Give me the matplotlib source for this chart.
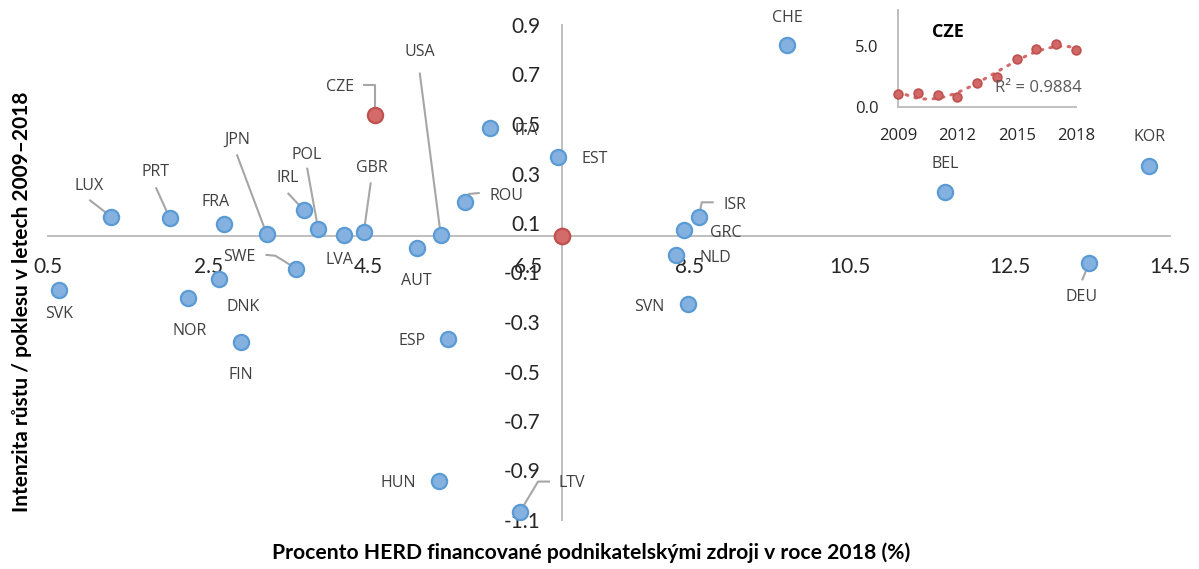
import numpy as np
import matplotlib
matplotlib.use('Agg')
import matplotlib.pyplot as plt

plt.rcParams['font.family'] = ['Open Sans', 'DejaVu Sans']

# zeme, podil HERD z podnikatelskych zdroju (%), intenzita rustu/poklesu
countries = ['LUX', 'PRT', 'FRA', 'JPN', 'IRL', 'POL', 'GBR', 'LVA', 'SWE', 'CZE',
             'USA', 'ROU', 'ITA', 'EST', 'AUT', 'ISR', 'GRC', 'NLD', 'SVN', 'DEU',
             'CHE', 'BEL', 'KOR', 'SVK', 'NOR', 'DNK', 'FIN', 'ESP', 'HUN', 'LTV']
herd_share = [1.29, 2.02, 2.69, 3.23, 3.69, 3.87, 4.44, 4.19, 3.60, 4.58,
              5.40, 5.70, 6.01, 6.86, 5.10, 8.62, 8.44, 8.33, 8.48, 13.49,
              9.72, 11.69, 14.24, 0.64, 2.25, 2.63, 2.91, 5.49, 5.38, 6.39]
growth = [0.125, 0.119, 0.095, 0.054, 0.153, 0.077, 0.062, 0.053, -0.085, 0.536,
          0.053, 0.185, 0.484, 0.365, 0.000, 0.123, 0.072, -0.028, -0.227, -0.063,
          0.819, 0.224, 0.330, -0.171, -0.204, -0.128, -0.381, -0.369, -0.942, -1.066]
avg_share = 6.91
avg_growth = 0.047

# CZE vyvoj 2009-2018 (vlozeny graf)
cze_years = [2009, 2010, 2011, 2012, 2013, 2014, 2015, 2016, 2017, 2018]
cze_values = [1.06, 1.14, 1.03, 0.86, 1.97, 2.44, 4.00, 4.78, 5.17, 4.67]

x_ticks = [0.5, 2.5, 4.5, 6.5, 8.5, 10.5, 12.5, 14.5]
y_ticks = [-1.1, -0.9, -0.7, -0.5, -0.3, -0.1, 0.1, 0.3, 0.5, 0.7, 0.9]

# popisky: posun textu v pixelech + lomena spojnice (pixely od bodu)
label_pos = {
    'LUX': ((-22, 31), [(-22, 17)]),
    'PRT': ((-14, 46), [(-14, 31)]),
    'FRA': ((-8, 22), None),
    'JPN': ((-30, 95), [(-30, 80)]),
    'IRL': ((-16, 32), [(-16, 17)]),
    'POL': ((-11, 74), [(-11, 61)]),
    'GBR': ((8, 64), [(7, 50)]),
    'LVA': ((-4, -25), None),
    'SWE': ((-57, 12), [(-31, 14), (-21, 13)]),
    'CZE': ((-35, 28), [(-12, 30), (0, 30)]),
    'USA': ((-21, 183), [(-21, 162)]),
    'ROU': ((42, 6), [(15, 9), (4, 8)]),
    'ITA': ((37, -3), None),
    'EST': ((37, -2), None),
    'AUT': ((0, -33), None),
    'ISR': ((36, 12), [(15, 15), (3, 15)]),
    'GRC': ((41, -3), None),
    'NLD': ((40, -3), None),
    'SVN': ((-38, -3), None),
    'DEU': ((-7, -34), [(-7, -17)]),
    'CHE': ((0, 27), None),
    'BEL': ((0, 28), None),
    'KOR': ((0, 29), None),
    'SVK': ((0, -24), None),
    'NOR': ((1, -33), None),
    'DNK': ((24, -28), None),
    'FIN': ((0, -33), None),
    'ESP': ((-36, -2), None),
    'HUN': ((-41, -2), None),
    'LTV': ((52, 29), [(30, 30), (18, 30)]),
}

W, H = 1199, 569
fig = plt.figure(figsize=(W / 100, H / 100), dpi=100)
ax = fig.add_axes([48 / W, (H - 520) / H, 1122 / W, 495 / H])
ax.set_xlim(0.5, 14.5)
ax.set_ylim(-1.1, 0.9)

axis_col = '#BFBFBF'
for s in ['top', 'right']:
    ax.spines[s].set_visible(False)
ax.spines['left'].set_position(('data', avg_share))
ax.spines['bottom'].set_position(('data', avg_growth))
for s in ['left', 'bottom']:
    ax.spines[s].set_color(axis_col)
    ax.spines[s].set_linewidth(1.4)
    ax.spines[s].set_zorder(0)

ax.set_xticks(x_ticks)
ax.set_xticklabels([f'{v:.1f}' for v in x_ticks])
ax.set_yticks(y_ticks)
ax.set_yticklabels([f'{v:.1f}' for v in y_ticks])
ax.tick_params(axis='x', length=0, pad=15, labelsize=15, labelcolor='#262626')
ax.tick_params(axis='y', length=0, pad=15, labelsize=15, labelcolor='#262626')
for t in ax.get_xticklabels() + ax.get_yticklabels():
    t.set_fontfamily(['Lato', 'DejaVu Sans'])

fig.canvas.draw()

# spojnice popisku
for name, x, y in zip(countries, herd_share, growth):
    (dx, dy), path = label_pos[name]
    if path:
        px, py = ax.transData.transform((x, y))
        pts = [(px + ox, py + oy) for ox, oy in path] + [(px, py)]
        dpts = ax.transData.inverted().transform(pts)
        ax.plot(dpts[:, 0], dpts[:, 1], color='#A6A6A6', lw=1.5, zorder=1,
                solid_capstyle='butt')

is_cze = [c == 'CZE' for c in countries]
bx = [x for x, c in zip(herd_share, is_cze) if not c]
by = [y for y, c in zip(growth, is_cze) if not c]
ax.scatter(bx, by, s=120, facecolor='#85B1E0', edgecolor='#5B9BD5', linewidth=1.6, zorder=3)
cx = [x for x, c in zip(herd_share, is_cze) if c]
cy = [y for y, c in zip(growth, is_cze) if c]
ax.scatter(cx, cy, s=120, facecolor='#D46B6B', edgecolor='#C0504D', linewidth=1.6, zorder=3)
ax.scatter([avg_share], [avg_growth], s=125, facecolor='#D46B6B', edgecolor='#C0504D',
           linewidth=1.6, zorder=3)

for name, x, y in zip(countries, herd_share, growth):
    (dx, dy), path = label_pos[name]
    ax.annotate(name, xy=(x, y), xytext=(dx, dy), textcoords='offset pixels',
                ha='center', va='center', fontsize=11.5, color='#404040', zorder=4)

fig.text(591 / W, 1 - 553 / H, 'Procento HERD financované podnikatelskými zdroji v roce 2018 (%)',
         ha='center', va='center', fontsize=15.2, fontweight='bold', color='#000000',
         family=['Lato', 'DejaVu Sans'])
fig.text(22 / W, 1 - 302 / H, 'Intenzita růstu / poklesu v letech 2009–2018',
         ha='center', va='center', rotation=90, fontsize=15, fontweight='bold',
         color='#000000', family=['Lato', 'DejaVu Sans'])

# vlozeny graf CZE
ins = fig.add_axes([898 / W, (H - 107) / H, 178 / W, 97 / H])
ins.patch.set_alpha(0)
ins.set_xlim(2009, 2018)
ins.set_ylim(0, 8)
for s in ['top', 'right']:
    ins.spines[s].set_visible(False)
for s in ['left', 'bottom']:
    ins.spines[s].set_color(axis_col)
    ins.spines[s].set_linewidth(1.4)
ins.set_xticks([2009, 2012, 2015, 2018])
ins.set_yticks([0, 5])
ins.set_yticklabels(['0.0', '5.0'])
ins.tick_params(axis='x', length=0, pad=15, labelsize=12, labelcolor='#262626')
ins.tick_params(axis='y', length=0, pad=14, labelsize=12, labelcolor='#262626')

coef = np.polyfit(cze_years, cze_values, 3)
xx = np.linspace(cze_years[0], cze_years[-1], 200)
ins.plot(xx, np.polyval(coef, xx), color='#D46B6B', lw=2.2, ls=(0, (0.6, 2.4)),
         dash_capstyle='round', zorder=2, clip_on=False)
ins.scatter(cze_years, cze_values, s=40, facecolor='#D06868', edgecolor='#C0504D',
            linewidth=1.2, zorder=3, clip_on=False)
ins.text(2016.08, 1.58, 'R² = 0.9884', ha='center', va='center', fontsize=12,
         color='#595959')
ins.text(2011.5, 6.17, 'CZE', ha='center', va='center', fontsize=13, fontweight='bold',
         color='#000000')

fig.savefig('out.png', dpi=100)
